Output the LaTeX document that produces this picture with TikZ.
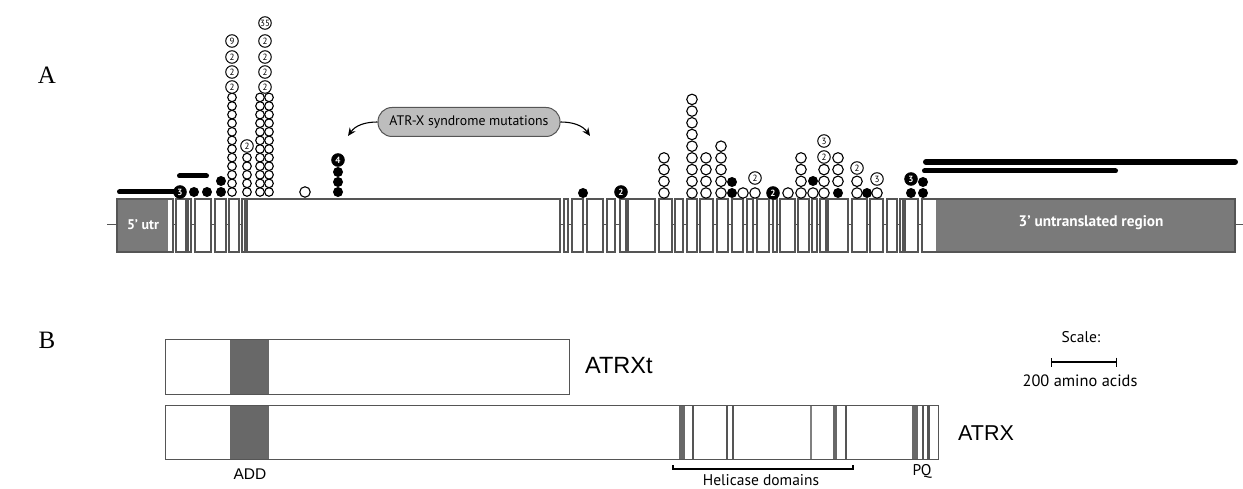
\documentclass[tikz,border=0pt]{standalone}
\usepackage{fontspec}
\setmainfont{Liberation Serif}
\setsansfont{PT Sans}
\newfontfamily\arialfont{Liberation Sans}
\usepackage{tikz}
\usetikzlibrary{arrows.meta,positioning}
\definecolor{utrgray}{HTML}{7A7A7A}
\definecolor{exongray}{HTML}{555555}
\definecolor{addgray}{HTML}{686868}
\definecolor{calloutgray}{HTML}{BDBDBD}

\begin{document}
\begin{tikzpicture}[
    x=1pt, y=-1pt,
    exon/.style={draw=exongray, line width=1.1pt, fill=white},
    protein/.style={draw=exongray, line width=1pt},
    openmut/.style={circle, draw=black, line width=1.1pt, fill=white, minimum size=8.6pt, inner sep=0pt},
    bigopen/.style={openmut, minimum size=10.5pt},
    solidmut/.style={circle, fill=black, minimum size=10pt, inner sep=0pt},
    numopen/.style={circle, draw=black, line width=1pt, fill=white, minimum size=12.5pt, inner sep=0pt, font=\sffamily\fontsize{9}{9}\selectfont},
    numsolid/.style={numopen, fill=black, text=white, font=\sffamily\bfseries\fontsize{9}{9}\selectfont},
    delbar/.style={line width=5pt, line cap=round},
    lbl/.style={font=\sffamily\fontsize{15.5}{15.5}\selectfont, inner sep=0pt}
]
\useasboundingbox (0,0) rectangle (1243,489);
\clip (0,0) rectangle (1243,489);

\node[font=\fontsize{25}{25}\selectfont] (partA) at (47,75) {A};
\node[font=\fontsize{25}{25}\selectfont] (partB) at (47,340) {B};

\draw[exongray, line width=1pt] (107,225) -- (1243,225);
\foreach \a/\b in {117/173, 176/186, 188/191, 195/211, 215/226, 229/239, 242/245, 247/560,
    564/568, 572/583, 587/603, 607/615, 620/626, 628/655, 659/672, 675/683, 687/697, 700/713,
    717/728, 732/743, 747/753, 757/769, 773/777, 780/795, 798/809, 812/817, 820/826, 828/848,
    852/867, 870/883, 887/897, 900/903, 905/918, 922/1235}
    \draw[exon] (\a,199) rectangle (\b,252);
\fill[utrgray] (117.6,199.6) rectangle (168,251.4);
\fill[utrgray] (936,199.6) rectangle (1234.4,251.4);
\node[font=\sffamily\bfseries\fontsize{14}{14}\selectfont, text=white] (utr5) at (143,225) {5' utr};
\node[font=\sffamily\bfseries\fontsize{15.3}{15.3}\selectfont, text=white] (utr3) at (1091,223) {3' untranslated region};

\draw[delbar] (119.5,192) -- (176,192);
\draw[delbar] (179.5,176) -- (206.5,176);
\draw[delbar, line width=6pt] (926,162) -- (1235,162);
\draw[delbar] (924.5,171) -- (1115.5,171);

\foreach \cx/\n in {232/12, 247/5, 260/12, 269/12}
    \foreach \k in {1,...,\n}
        \node[openmut] (o-\cx-\k) at (\cx,{192-(\k-1)*8.6}) {};
\foreach \cx/\n in {664/4, 692/9, 706/4, 721/5, 743/1, 755/1, 788/1, 801/4, 813/1, 824/3, 857/2, 877/1}
    \foreach \k in {1,...,\n}
        \node[bigopen] (b-\cx-\k) at (\cx,{193-(\k-1)*11.7}) {};
\foreach \k in {2,3,4}
    \node[bigopen] (b-838-\k) at (838,{193-(\k-1)*11.7}) {};
\node[bigopen] (b-305-1) at (305,192) {};

\foreach \cx/\cy [count=\i] in {194/192, 207/192, 221/192, 221/181, 338/192, 338/182, 338/172,
    583/193, 732/193, 732/182, 813/181, 838/193, 867/193, 911/193, 923/193, 923/182}
    \node[solidmut] (s\i) at (\cx,\cy) {};

\foreach \cx/\cy/\t [count=\i] in {232/87/2, 232/72/2, 232/57/2, 232/41/9, 247/146/2,
    265/87/2, 265/72/2, 265/57/2, 265/41/2, 265/23/35,
    755/178/2, 824/157/2, 824/141/3, 857/168/2, 877/179/3}
    \node[numopen] (n\i) at (\cx,\cy) {\t};
\foreach \cx/\cy/\t [count=\i] in {180/192/3, 338/160/4, 621/192/2, 773/193/2, 911/179/3}
    \node[numsolid] (f\i) at (\cx,\cy) {\t};

\node[draw=exongray, fill=calloutgray, line width=1pt, rounded corners=14pt, minimum width=182pt,
    minimum height=29pt, font=\sffamily\fontsize{13.8}{13.8}\selectfont] (callout) at (469,122) {ATR-X syndrome mutations};
\coordinate (tipL) at (348,136);
\coordinate (tipR) at (590,136);
\draw[-{Stealth[length=8pt,width=7pt]}, line width=1.1pt] (callout.west) to[out=180, in=55] (tipL);
\draw[-{Stealth[length=8pt,width=7pt]}, line width=1.1pt] (callout.east) to[out=0, in=125] (tipR);

\draw[protein] (165,339) rectangle (569,394);
\fill[addgray] (230,339.5) rectangle (269,393.5);
\draw[protein] (165,405) rectangle (938,459);
\fill[addgray] (230,405.5) rectangle (269,458.5);
\foreach \a/\b/\c in {679/685/addgray, 692/694/exongray, 726/728/exongray, 732/734/exongray,
    810/811.5/gray, 833/837/addgray, 845/847/exongray, 912/918/addgray, 922/924/exongray, 927/930/exongray}
    \fill[\c] (\a,405.5) rectangle (\b,458.5);

\node[anchor=west, inner sep=0pt, font=\arialfont\fontsize{23.5}{23.5}\selectfont] (atrxt) at (585,366) {ATRXt};
\node[anchor=west, inner sep=0pt, font=\arialfont\fontsize{21.5}{21.5}\selectfont] (atrx) at (958,433) {ATRX};
\node[font=\arialfont\fontsize{15.5}{15.5}\selectfont] (add) at (250,474) {ADD};
\node[lbl] (pq) at (922,471) {PQ};
\draw[line width=1.8pt] (673,465) -- (673,469) -- (853,469) -- (853,465);
\node[lbl, anchor=base] (heli) at (761,485) {Helicase domains};

\node[lbl] (scl) at (1081,337) {Scale:};
\coordinate (sa) at (1051,362);
\coordinate (sb) at (1117,362);
\draw[{Bar[width=9pt]}-{Bar[width=9pt]}, line width=1.2pt] (sa) -- (sb);
\node[lbl, font=\sffamily\fontsize{16.4}{16.4}\selectfont] (aa) at (1080,381) {200 amino acids};
\end{tikzpicture}
\end{document}
